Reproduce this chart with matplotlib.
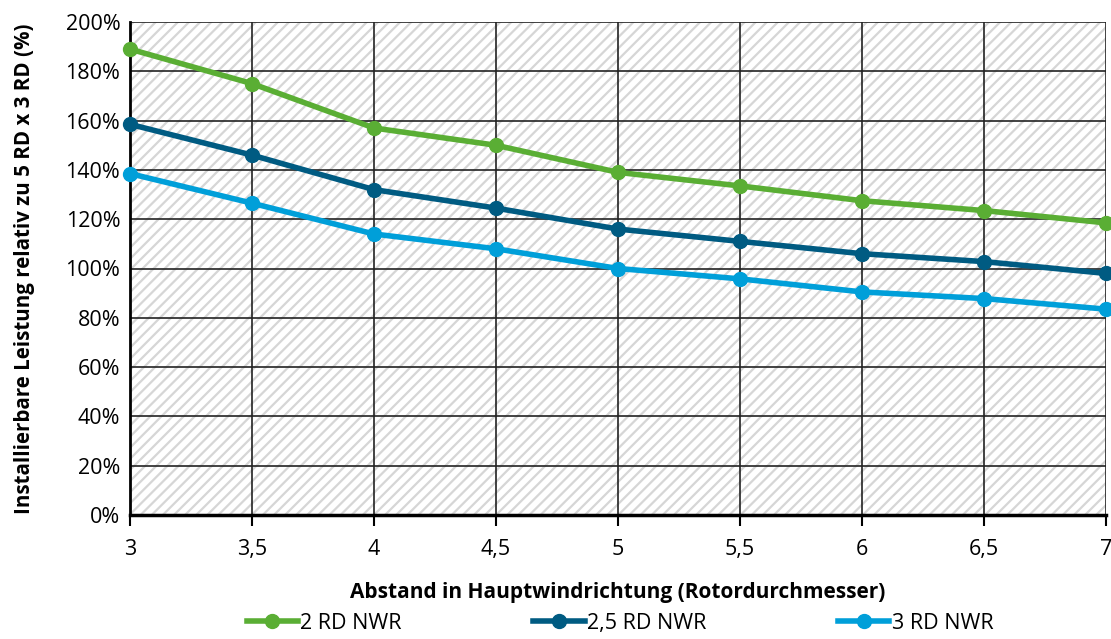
import matplotlib.pyplot as plt
from matplotlib.ticker import FuncFormatter, MultipleLocator

# Abstand in Hauptwindrichtung (Rotordurchmesser)
abstand = [3, 3.5, 4, 4.5, 5, 5.5, 6, 6.5, 7]

# Installierbare Leistung relativ zu 5 RD x 3 RD (%)
nwr_2 = [189, 175, 157, 150, 139, 133.5, 127.5, 123.5, 118.5]
nwr_25 = [158.5, 146, 132, 124.5, 116, 111, 106, 102.8, 98]
nwr_3 = [138.5, 126.5, 114, 108, 100, 95.8, 90.5, 87.8, 83.5]

labels = ['2 RD NWR', '2,5 RD NWR', '3 RD NWR']
colors = ['#5aae34', '#005b82', '#009fd9']

plt.rcParams['font.family'] = ['Open Sans', 'DejaVu Sans']
plt.rcParams['hatch.linewidth'] = 1.6

fig = plt.figure(figsize=(11.11, 6.39), dpi=100)
ax = fig.add_axes([130 / 1111, 1 - 515 / 639, 976 / 1111, 493 / 639])

# hatched plot background
ax.set_facecolor('white')
ax.fill_between([3, 7], 0, 200, facecolor='white', hatch='///', edgecolor='#d6d6d6',
                linewidth=0, zorder=0)

for vals, lab, col in zip([nwr_2, nwr_25, nwr_3], labels, colors):
    ax.plot(abstand, vals, color=col, lw=4, marker='o', ms=10, label=lab,
            zorder=3, clip_on=False)

ax.set_xlim(3, 7)
ax.set_ylim(0, 200)
ax.xaxis.set_major_locator(MultipleLocator(0.5))
ax.yaxis.set_major_locator(MultipleLocator(20))
ax.xaxis.set_major_formatter(FuncFormatter(lambda v, p: f'{v:g}'.replace('.', ',')))
ax.yaxis.set_major_formatter(FuncFormatter(lambda v, p: f'{v:.0f}%'))
ax.grid(True, color='#222222', lw=1.2, zorder=1)

for side in ['top', 'right']:
    ax.spines[side].set_visible(False)
ax.spines['left'].set_linewidth(2)
ax.spines['bottom'].set_linewidth(2.5)
ax.tick_params(axis='both', labelsize=15.5, length=0, pad=7)
ax.tick_params(axis='x', length=8, width=1.5, direction='out', pad=9)

ax.set_xlabel('Abstand in Hauptwindrichtung (Rotordurchmesser)', fontsize=15,
              fontweight='bold', labelpad=16)
ax.set_ylabel('Installierbare Leistung relativ zu 5 RD x 3 RD (%)', fontsize=14.8,
              fontweight='bold', labelpad=22)

fig.legend(loc='lower center', bbox_to_anchor=(0.558, -0.022), ncol=3, frameon=False,
           fontsize=15.5, columnspacing=6.1, handlelength=2.4, handletextpad=0.1)

fig.savefig('out.png', dpi=100)
